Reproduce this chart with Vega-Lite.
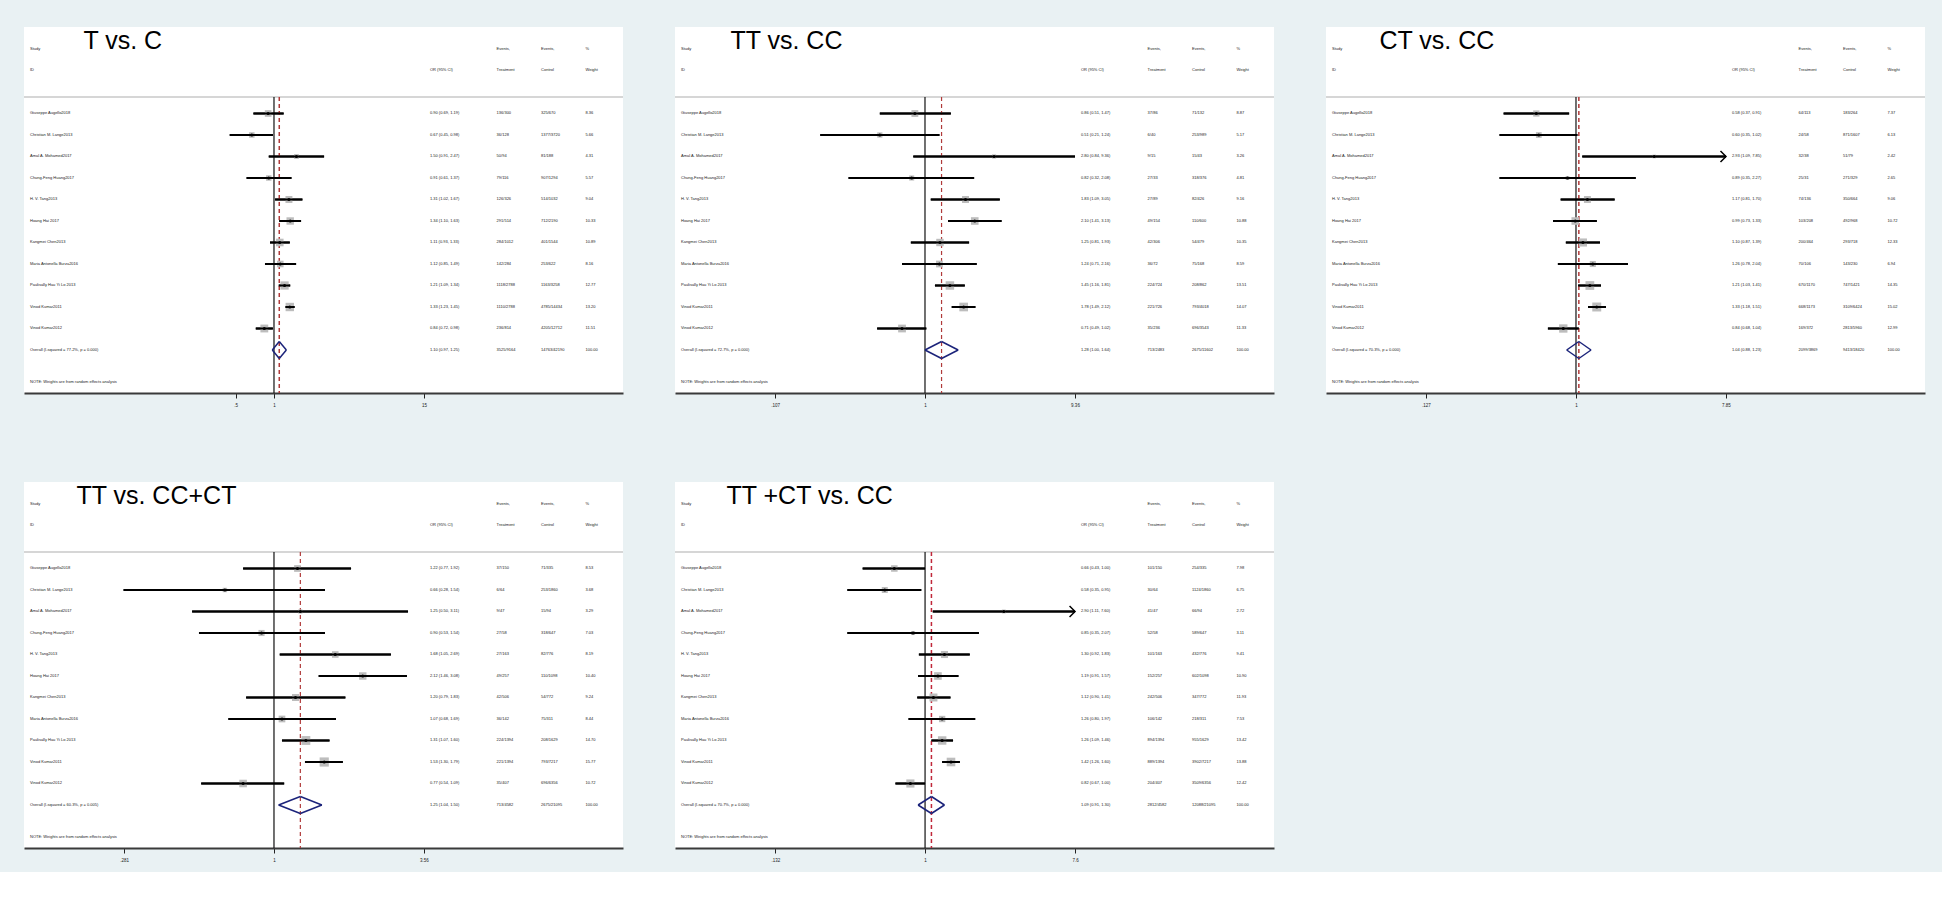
{
"$schema":"https://vega.github.io/schema/vega-lite/v6.json",
"background":"#e9f1f3",
"padding":{"left":23,"top":27,"right":16,"bottom":10},
"bounds":"flush",
"columns":3,
"spacing":{"row":89,"column":52},
"config":{"view":{"fill":"white","stroke":null},"font":"Liberation Sans"},
"datasets":{
"hdr":[
{"txt":"Study","col":"study","row":-2},{"txt":"ID","col":"study","row":-1},
{"txt":"OR (95% CI)","col":"ci","row":-1},
{"txt":"Events,","col":"trt","row":-2},{"txt":"Treatment","col":"trt","row":-1},
{"txt":"Events,","col":"ctl","row":-2},{"txt":"Control","col":"ctl","row":-1},
{"txt":"%","col":"wt","row":-2},{"txt":"Weight","col":"wt","row":-1},
{"txt":"NOTE: Weights are from random effects analysis","col":"study","row":13.5}],
"p1":[
{"study":"Giuseppe Augello2018","or":0.90,"lo":0.69,"hi":1.19,"ci":"0.90 (0.69, 1.19)","trt":"136/300","ctl":"325/670","wt":"8.36","row":1,"kind":"study"},
{"study":"Christian M. Lange2013","or":0.67,"lo":0.45,"hi":0.98,"ci":"0.67 (0.45, 0.98)","trt":"36/128","ctl":"1377/3720","wt":"5.66","row":2,"kind":"study"},
{"study":"Amal A. Mohamed2017","or":1.50,"lo":0.91,"hi":2.47,"ci":"1.50 (0.91, 2.47)","trt":"50/94","ctl":"81/188","wt":"4.31","row":3,"kind":"study"},
{"study":"Chung-Feng Huang2017","or":0.91,"lo":0.61,"hi":1.37,"ci":"0.91 (0.61, 1.37)","trt":"79/116","ctl":"907/1294","wt":"5.57","row":4,"kind":"study"},
{"study":"H. V. Tang2013","or":1.31,"lo":1.02,"hi":1.67,"ci":"1.31 (1.02, 1.67)","trt":"126/326","ctl":"514/1032","wt":"9.04","row":5,"kind":"study"},
{"study":"Hoang Hai 2017","or":1.34,"lo":1.10,"hi":1.63,"ci":"1.34 (1.10, 1.63)","trt":"291/514","ctl":"712/2190","wt":"10.33","row":6,"kind":"study"},
{"study":"Kangmei Chen2013","or":1.11,"lo":0.93,"hi":1.33,"ci":"1.11 (0.93, 1.33)","trt":"284/1012","ctl":"401/1544","wt":"10.89","row":7,"kind":"study"},
{"study":"Maria Antonella Burza2016","or":1.12,"lo":0.85,"hi":1.49,"ci":"1.12 (0.85, 1.49)","trt":"142/284","ctl":"253/622","wt":"8.16","row":8,"kind":"study"},
{"study":"Paulisally Hau Yi Lo 2013","or":1.21,"lo":1.09,"hi":1.34,"ci":"1.21 (1.09, 1.34)","trt":"1118/2788","ctl":"1163/3258","wt":"12.77","row":9,"kind":"study"},
{"study":"Vinod Kumar2011","or":1.33,"lo":1.23,"hi":1.45,"ci":"1.33 (1.23, 1.45)","trt":"1110/2788","ctl":"4785/14434","wt":"13.20","row":10,"kind":"study"},
{"study":"Vinod Kumar2012","or":0.84,"lo":0.72,"hi":0.98,"ci":"0.84 (0.72, 0.98)","trt":"236/814","ctl":"4205/12712","wt":"11.51","row":11,"kind":"study"},
{"study":"Overall  (I-squared = 77.2%, p = 0.000)","or":1.10,"lo":0.97,"hi":1.25,"ci":"1.10 (0.97, 1.25)","trt":"3525/9164","ctl":"14763/42190","wt":"100.00","row":12,"kind":"overall"}],
"p2":[
{"study":"Giuseppe Augello2018","or":0.86,"lo":0.51,"hi":1.47,"ci":"0.86 (0.51, 1.47)","trt":"37/86","ctl":"71/132","wt":"8.87","row":1,"kind":"study"},
{"study":"Christian M. Lange2013","or":0.51,"lo":0.21,"hi":1.24,"ci":"0.51 (0.21, 1.24)","trt":"6/40","ctl":"253/989","wt":"5.17","row":2,"kind":"study"},
{"study":"Amal A. Mohamed2017","or":2.80,"lo":0.84,"hi":9.36,"ci":"2.80 (0.84, 9.36)","trt":"9/15","ctl":"15/43","wt":"3.26","row":3,"kind":"study"},
{"study":"Chung-Feng Huang2017","or":0.82,"lo":0.32,"hi":2.08,"ci":"0.82 (0.32, 2.08)","trt":"27/33","ctl":"318/376","wt":"4.81","row":4,"kind":"study"},
{"study":"H. V. Tang2013","or":1.83,"lo":1.09,"hi":3.05,"ci":"1.83 (1.09, 3.05)","trt":"27/89","ctl":"82/426","wt":"9.16","row":5,"kind":"study"},
{"study":"Hoang Hai 2017","or":2.10,"lo":1.41,"hi":3.13,"ci":"2.10 (1.41, 3.13)","trt":"49/154","ctl":"110/600","wt":"10.88","row":6,"kind":"study"},
{"study":"Kangmei Chen2013","or":1.25,"lo":0.81,"hi":1.93,"ci":"1.25 (0.81, 1.93)","trt":"42/306","ctl":"54/479","wt":"10.35","row":7,"kind":"study"},
{"study":"Maria Antonella Burza2016","or":1.24,"lo":0.71,"hi":2.16,"ci":"1.24 (0.71, 2.16)","trt":"36/72","ctl":"75/168","wt":"8.59","row":8,"kind":"study"},
{"study":"Paulisally Hau Yi Lo 2013","or":1.45,"lo":1.16,"hi":1.81,"ci":"1.45 (1.16, 1.81)","trt":"224/724","ctl":"208/862","wt":"13.51","row":9,"kind":"study"},
{"study":"Vinod Kumar2011","or":1.78,"lo":1.49,"hi":2.12,"ci":"1.78 (1.49, 2.12)","trt":"221/726","ctl":"793/4018","wt":"14.07","row":10,"kind":"study"},
{"study":"Vinod Kumar2012","or":0.71,"lo":0.49,"hi":1.02,"ci":"0.71 (0.49, 1.02)","trt":"35/236","ctl":"696/3543","wt":"11.33","row":11,"kind":"study"},
{"study":"Overall  (I-squared = 72.7%, p = 0.000)","or":1.28,"lo":1.00,"hi":1.64,"ci":"1.28 (1.00, 1.64)","trt":"713/2483","ctl":"2675/11602","wt":"100.00","row":12,"kind":"overall"}],
"p3":[
{"study":"Giuseppe Augello2018","or":0.58,"lo":0.37,"hi":0.91,"ci":"0.58 (0.37, 0.91)","trt":"64/113","ctl":"183/264","wt":"7.37","row":1,"kind":"study"},
{"study":"Christian M. Lange2013","or":0.60,"lo":0.35,"hi":1.02,"ci":"0.60 (0.35, 1.02)","trt":"24/58","ctl":"871/1607","wt":"6.13","row":2,"kind":"study"},
{"study":"Amal A. Mohamed2017","or":2.93,"lo":1.09,"hi":7.85,"ci":"2.93 (1.09, 7.85)","trt":"32/38","ctl":"51/79","wt":"2.42","row":3,"kind":"study"},
{"study":"Chung-Feng Huang2017","or":0.89,"lo":0.35,"hi":2.27,"ci":"0.89 (0.35, 2.27)","trt":"25/31","ctl":"271/329","wt":"2.65","row":4,"kind":"study"},
{"study":"H. V. Tang2013","or":1.17,"lo":0.81,"hi":1.70,"ci":"1.17 (0.81, 1.70)","trt":"74/136","ctl":"350/664","wt":"9.06","row":5,"kind":"study"},
{"study":"Hoang Hai 2017","or":0.99,"lo":0.73,"hi":1.33,"ci":"0.99 (0.73, 1.33)","trt":"103/208","ctl":"492/968","wt":"10.72","row":6,"kind":"study"},
{"study":"Kangmei Chen2013","or":1.10,"lo":0.87,"hi":1.39,"ci":"1.10 (0.87, 1.39)","trt":"200/464","ctl":"293/718","wt":"12.33","row":7,"kind":"study"},
{"study":"Maria Antonella Burza2016","or":1.26,"lo":0.78,"hi":2.04,"ci":"1.26 (0.78, 2.04)","trt":"70/106","ctl":"143/230","wt":"6.94","row":8,"kind":"study"},
{"study":"Paulisally Hau Yi Lo 2013","or":1.21,"lo":1.03,"hi":1.41,"ci":"1.21 (1.03, 1.41)","trt":"670/1170","ctl":"747/1421","wt":"14.35","row":9,"kind":"study"},
{"study":"Vinod Kumar2011","or":1.33,"lo":1.18,"hi":1.51,"ci":"1.33 (1.18, 1.51)","trt":"668/1173","ctl":"3109/6424","wt":"15.02","row":10,"kind":"study"},
{"study":"Vinod Kumar2012","or":0.84,"lo":0.68,"hi":1.04,"ci":"0.84 (0.68, 1.04)","trt":"169/372","ctl":"2813/5960","wt":"12.99","row":11,"kind":"study"},
{"study":"Overall  (I-squared = 70.3%, p = 0.000)","or":1.04,"lo":0.88,"hi":1.23,"ci":"1.04 (0.88, 1.23)","trt":"2099/3869","ctl":"9413/18420","wt":"100.00","row":12,"kind":"overall"}],
"p4":[
{"study":"Giuseppe Augello2018","or":1.22,"lo":0.77,"hi":1.92,"ci":"1.22 (0.77, 1.92)","trt":"37/150","ctl":"71/335","wt":"8.53","row":1,"kind":"study"},
{"study":"Christian M. Lange2013","or":0.66,"lo":0.28,"hi":1.54,"ci":"0.66 (0.28, 1.54)","trt":"6/64","ctl":"253/1860","wt":"3.68","row":2,"kind":"study"},
{"study":"Amal A. Mohamed2017","or":1.25,"lo":0.50,"hi":3.11,"ci":"1.25 (0.50, 3.11)","trt":"9/47","ctl":"15/94","wt":"3.29","row":3,"kind":"study"},
{"study":"Chung-Feng Huang2017","or":0.90,"lo":0.53,"hi":1.54,"ci":"0.90 (0.53, 1.54)","trt":"27/58","ctl":"318/647","wt":"7.03","row":4,"kind":"study"},
{"study":"H. V. Tang2013","or":1.68,"lo":1.05,"hi":2.69,"ci":"1.68 (1.05, 2.69)","trt":"27/163","ctl":"82/776","wt":"8.19","row":5,"kind":"study"},
{"study":"Hoang Hai 2017","or":2.12,"lo":1.46,"hi":3.08,"ci":"2.12 (1.46, 3.08)","trt":"49/257","ctl":"110/1098","wt":"10.40","row":6,"kind":"study"},
{"study":"Kangmei Chen2013","or":1.20,"lo":0.79,"hi":1.83,"ci":"1.20 (0.79, 1.83)","trt":"42/506","ctl":"54/772","wt":"9.24","row":7,"kind":"study"},
{"study":"Maria Antonella Burza2016","or":1.07,"lo":0.68,"hi":1.69,"ci":"1.07 (0.68, 1.69)","trt":"36/142","ctl":"75/311","wt":"8.44","row":8,"kind":"study"},
{"study":"Paulisally Hau Yi Lo 2013","or":1.31,"lo":1.07,"hi":1.60,"ci":"1.31 (1.07, 1.60)","trt":"224/1394","ctl":"208/1629","wt":"14.70","row":9,"kind":"study"},
{"study":"Vinod Kumar2011","or":1.53,"lo":1.30,"hi":1.79,"ci":"1.53 (1.30, 1.79)","trt":"221/1394","ctl":"793/7217","wt":"15.77","row":10,"kind":"study"},
{"study":"Vinod Kumar2012","or":0.77,"lo":0.54,"hi":1.09,"ci":"0.77 (0.54, 1.09)","trt":"35/407","ctl":"696/6356","wt":"10.72","row":11,"kind":"study"},
{"study":"Overall  (I-squared = 60.3%, p = 0.005)","or":1.25,"lo":1.04,"hi":1.50,"ci":"1.25 (1.04, 1.50)","trt":"713/4582","ctl":"2675/21095","wt":"100.00","row":12,"kind":"overall"}],
"p5":[
{"study":"Giuseppe Augello2018","or":0.66,"lo":0.43,"hi":1.00,"ci":"0.66 (0.43, 1.00)","trt":"101/150","ctl":"254/335","wt":"7.98","row":1,"kind":"study"},
{"study":"Christian M. Lange2013","or":0.58,"lo":0.35,"hi":0.95,"ci":"0.58 (0.35, 0.95)","trt":"30/64","ctl":"1124/1860","wt":"6.75","row":2,"kind":"study"},
{"study":"Amal A. Mohamed2017","or":2.90,"lo":1.11,"hi":7.60,"ci":"2.90 (1.11, 7.60)","trt":"41/47","ctl":"66/94","wt":"2.72","row":3,"kind":"study"},
{"study":"Chung-Feng Huang2017","or":0.85,"lo":0.35,"hi":2.07,"ci":"0.85 (0.35, 2.07)","trt":"52/58","ctl":"589/647","wt":"3.11","row":4,"kind":"study"},
{"study":"H. V. Tang2013","or":1.30,"lo":0.92,"hi":1.83,"ci":"1.30 (0.92, 1.83)","trt":"101/163","ctl":"432/776","wt":"9.41","row":5,"kind":"study"},
{"study":"Hoang Hai 2017","or":1.19,"lo":0.91,"hi":1.57,"ci":"1.19 (0.91, 1.57)","trt":"152/257","ctl":"602/1098","wt":"10.90","row":6,"kind":"study"},
{"study":"Kangmei Chen2013","or":1.12,"lo":0.90,"hi":1.41,"ci":"1.12 (0.90, 1.41)","trt":"242/506","ctl":"347/772","wt":"11.93","row":7,"kind":"study"},
{"study":"Maria Antonella Burza2016","or":1.26,"lo":0.80,"hi":1.97,"ci":"1.26 (0.80, 1.97)","trt":"106/142","ctl":"218/311","wt":"7.53","row":8,"kind":"study"},
{"study":"Paulisally Hau Yi Lo 2013","or":1.26,"lo":1.09,"hi":1.46,"ci":"1.26 (1.09, 1.46)","trt":"894/1394","ctl":"955/1629","wt":"13.42","row":9,"kind":"study"},
{"study":"Vinod Kumar2011","or":1.42,"lo":1.26,"hi":1.60,"ci":"1.42 (1.26, 1.60)","trt":"889/1394","ctl":"3902/7217","wt":"13.88","row":10,"kind":"study"},
{"study":"Vinod Kumar2012","or":0.82,"lo":0.67,"hi":1.00,"ci":"0.82 (0.67, 1.00)","trt":"204/407","ctl":"3509/6356","wt":"12.42","row":11,"kind":"study"},
{"study":"Overall  (I-squared = 70.7%, p = 0.000)","or":1.09,"lo":0.91,"hi":1.30,"ci":"1.09 (0.91, 1.30)","trt":"2812/4582","ctl":"12088/21095","wt":"100.00","row":12,"kind":"overall"}]
},
"concat":[
{"width":599,"height":366,"resolve":{"scale":{"x":"independent"}},"layer":[
{"data":{"name":"p1"},"layer":[
{"data":{"values":[{}]},"mark":{"type":"rule","color":"#c8c8c8","strokeWidth":1.5},"encoding":{"y":{"datum":0.233,"type":"quantitative","scale":{"domain":[-3.023,14],"reverse":true,"nice":false,"zero":false},"axis":null}}},
{"transform":[{"filter":"datum.kind=='study'"}],"mark":{"type":"rule","color":"#000000","strokeWidth":2},"encoding":{"x":{"field":"lo","type":"quantitative","scale":{"type":"log","domain":[0.01097,544.6],"nice":false},"axis":{"values":[0.5,1,15],"labelExpr":"replace(format(datum.value,'.3~g'),'0.','.')","title":null,"grid":false,"domain":true,"ticks":true,"labels":true,"domainColor":"#3a3a3a","domainWidth":2,"tickColor":"#222222","tickSize":5,"labelFontSize":4.5,"labelColor":"#222222","labelPadding":4,"labelAngle":0,"labelFlush":false,"labelOverlap":false}},"x2":{"field":"hi"},"y":{"field":"row","type":"quantitative","scale":{"domain":[-3.023,14],"reverse":true,"nice":false,"zero":false},"axis":null}}},
{"data":{"values":[{}]},"mark":{"type":"rule","color":"#111111","strokeWidth":1.2},"encoding":{"x":{"datum":1,"type":"quantitative","scale":{"type":"log","domain":[0.01097,544.6],"nice":false}},"y":{"datum":0.233,"type":"quantitative","scale":{"domain":[-3.023,14],"reverse":true,"nice":false,"zero":false},"axis":null},"y2":{"datum":14}}},
{"transform":[{"filter":"datum.kind=='overall'"}],"mark":{"type":"rule","color":"#b03a3a","strokeWidth":1.5,"strokeDash":[4,3]},"encoding":{"x":{"field":"or","type":"quantitative","scale":{"type":"log","domain":[0.01097,544.6],"nice":false}},"y":{"datum":0.233,"type":"quantitative","scale":{"domain":[-3.023,14],"reverse":true,"nice":false,"zero":false},"axis":null},"y2":{"datum":14}}},
{"transform":[{"filter":"datum.kind=='study'"}],"mark":{"type":"point","shape":"square","filled":true,"color":"#bdbdbd","opacity":1},"encoding":{"x":{"field":"or","type":"quantitative","scale":{"type":"log","domain":[0.01097,544.6],"nice":false}},"y":{"field":"row","type":"quantitative","scale":{"domain":[-3.023,14],"reverse":true,"nice":false,"zero":false},"axis":null},"size":{"field":"wt","type":"quantitative","scale":{"domain":[0,15],"range":[0,80]},"legend":null}}},
{"transform":[{"filter":"datum.kind=='study'"}],"mark":{"type":"rule","color":"#000000","strokeWidth":2},"encoding":{"x":{"field":"lo","type":"quantitative","scale":{"type":"log","domain":[0.01097,544.6],"nice":false}},"x2":{"field":"hi"},"y":{"field":"row","type":"quantitative","scale":{"domain":[-3.023,14],"reverse":true,"nice":false,"zero":false},"axis":null}}},
{"transform":[{"filter":"datum.kind=='study'"}],"mark":{"type":"point","shape":"circle","filled":true,"color":"#000000","opacity":1,"size":10},"encoding":{"x":{"field":"or","type":"quantitative","scale":{"type":"log","domain":[0.01097,544.6],"nice":false}},"y":{"field":"row","type":"quantitative","scale":{"domain":[-3.023,14],"reverse":true,"nice":false,"zero":false},"axis":null}}},
{"transform":[{"filter":"datum.kind=='overall'"}],"mark":{"type":"rule","color":"#1b237a","strokeWidth":1.5,"y2Offset":-8.5},"encoding":{"x":{"field":"lo","type":"quantitative","scale":{"type":"log","domain":[0.01097,544.6],"nice":false}},"x2":{"field":"or"},"y":{"field":"row","type":"quantitative","scale":{"domain":[-3.023,14],"reverse":true,"nice":false,"zero":false},"axis":null},"y2":{"field":"row"}}},
{"transform":[{"filter":"datum.kind=='overall'"}],"mark":{"type":"rule","color":"#1b237a","strokeWidth":1.5,"yOffset":-8.5},"encoding":{"x":{"field":"or","type":"quantitative","scale":{"type":"log","domain":[0.01097,544.6],"nice":false}},"x2":{"field":"hi"},"y":{"field":"row","type":"quantitative","scale":{"domain":[-3.023,14],"reverse":true,"nice":false,"zero":false},"axis":null},"y2":{"field":"row"}}},
{"transform":[{"filter":"datum.kind=='overall'"}],"mark":{"type":"rule","color":"#1b237a","strokeWidth":1.5,"y2Offset":8.5},"encoding":{"x":{"field":"lo","type":"quantitative","scale":{"type":"log","domain":[0.01097,544.6],"nice":false}},"x2":{"field":"or"},"y":{"field":"row","type":"quantitative","scale":{"domain":[-3.023,14],"reverse":true,"nice":false,"zero":false},"axis":null},"y2":{"field":"row"}}},
{"transform":[{"filter":"datum.kind=='overall'"}],"mark":{"type":"rule","color":"#1b237a","strokeWidth":1.5,"yOffset":8.5},"encoding":{"x":{"field":"or","type":"quantitative","scale":{"type":"log","domain":[0.01097,544.6],"nice":false}},"x2":{"field":"hi"},"y":{"field":"row","type":"quantitative","scale":{"domain":[-3.023,14],"reverse":true,"nice":false,"zero":false},"axis":null},"y2":{"field":"row"}}}
]},
{"layer":[
{"data":{"name":"p1"},"transform":[{"fold":["study","ci","trt","ctl","wt"],"as":["col","txt"]}],"mark":{"type":"text","align":"left","baseline":"middle","fontSize":4,"font":"Liberation Sans","color":"#222222"},"encoding":{"x":{"field":"col","type":"nominal","scale":{"type":"point","domain":["study","_1","title","_3","_4","_5","_6","_7","_8","_9","_10","_11","_12","_13","_14","_15","_16","_17","ci","_19","_20","trt","_22","ctl","_24","wt"],"range":[6,561.5],"padding":0},"axis":null},"y":{"field":"row","type":"quantitative","scale":{"domain":[-3.023,14],"reverse":true,"nice":false,"zero":false},"axis":null},"text":{"field":"txt"}}},
{"data":{"name":"hdr"},"mark":{"type":"text","align":"left","baseline":"middle","fontSize":4,"font":"Liberation Sans","color":"#222222"},"encoding":{"x":{"field":"col","type":"nominal","scale":{"type":"point","domain":["study","_1","title","_3","_4","_5","_6","_7","_8","_9","_10","_11","_12","_13","_14","_15","_16","_17","ci","_19","_20","trt","_22","ctl","_24","wt"],"range":[6,561.5],"padding":0},"axis":null},"y":{"field":"row","type":"quantitative","scale":{"domain":[-3.023,14],"reverse":true,"nice":false,"zero":false},"axis":null},"text":{"field":"txt"}}},
{"data":{"values":[{"txt":"T vs. C"}]},"mark":{"type":"text","align":"left","baseline":"alphabetic","fontSize":25,"font":"Liberation Sans","color":"#000000","dx":9},"encoding":{"x":{"datum":"title","type":"nominal","scale":{"type":"point","domain":["study","_1","title","_3","_4","_5","_6","_7","_8","_9","_10","_11","_12","_13","_14","_15","_16","_17","ci","_19","_20","trt","_22","ctl","_24","wt"],"range":[6,561.5],"padding":0},"axis":null},"y":{"datum":-2,"type":"quantitative","scale":{"domain":[-3.023,14],"reverse":true,"nice":false,"zero":false},"axis":null},"text":{"field":"txt"}}}
]}
]},
{"width":599,"height":366,"resolve":{"scale":{"x":"independent"}},"layer":[
{"data":{"name":"p2"},"layer":[
{"data":{"values":[{}]},"mark":{"type":"rule","color":"#c8c8c8","strokeWidth":1.5},"encoding":{"y":{"datum":0.233,"type":"quantitative","scale":{"domain":[-3.023,14],"reverse":true,"nice":false,"zero":false},"axis":null}}},
{"transform":[{"filter":"datum.kind=='study'"}],"mark":{"type":"rule","color":"#000000","strokeWidth":2},"encoding":{"x":{"field":"lo","type":"quantitative","scale":{"type":"log","domain":[0.02406,181.9],"nice":false},"axis":{"values":[0.107,1,9.36],"labelExpr":"replace(format(datum.value,'.3~g'),'0.','.')","title":null,"grid":false,"domain":true,"ticks":true,"labels":true,"domainColor":"#3a3a3a","domainWidth":2,"tickColor":"#222222","tickSize":5,"labelFontSize":4.5,"labelColor":"#222222","labelPadding":4,"labelAngle":0,"labelFlush":false,"labelOverlap":false}},"x2":{"field":"hi"},"y":{"field":"row","type":"quantitative","scale":{"domain":[-3.023,14],"reverse":true,"nice":false,"zero":false},"axis":null}}},
{"data":{"values":[{}]},"mark":{"type":"rule","color":"#111111","strokeWidth":1.2},"encoding":{"x":{"datum":1,"type":"quantitative","scale":{"type":"log","domain":[0.02406,181.9],"nice":false}},"y":{"datum":0.233,"type":"quantitative","scale":{"domain":[-3.023,14],"reverse":true,"nice":false,"zero":false},"axis":null},"y2":{"datum":14}}},
{"transform":[{"filter":"datum.kind=='overall'"}],"mark":{"type":"rule","color":"#b03a3a","strokeWidth":1.2,"strokeDash":[4,3]},"encoding":{"x":{"field":"or","type":"quantitative","scale":{"type":"log","domain":[0.02406,181.9],"nice":false}},"y":{"datum":0.233,"type":"quantitative","scale":{"domain":[-3.023,14],"reverse":true,"nice":false,"zero":false},"axis":null},"y2":{"datum":14}}},
{"transform":[{"filter":"datum.kind=='study'"}],"mark":{"type":"point","shape":"square","filled":true,"color":"#bdbdbd","opacity":1},"encoding":{"x":{"field":"or","type":"quantitative","scale":{"type":"log","domain":[0.02406,181.9],"nice":false}},"y":{"field":"row","type":"quantitative","scale":{"domain":[-3.023,14],"reverse":true,"nice":false,"zero":false},"axis":null},"size":{"field":"wt","type":"quantitative","scale":{"domain":[0,15],"range":[0,112]},"legend":null}}},
{"transform":[{"filter":"datum.kind=='study'"}],"mark":{"type":"rule","color":"#000000","strokeWidth":2},"encoding":{"x":{"field":"lo","type":"quantitative","scale":{"type":"log","domain":[0.02406,181.9],"nice":false}},"x2":{"field":"hi"},"y":{"field":"row","type":"quantitative","scale":{"domain":[-3.023,14],"reverse":true,"nice":false,"zero":false},"axis":null}}},
{"transform":[{"filter":"datum.kind=='study'"}],"mark":{"type":"point","shape":"circle","filled":true,"color":"#000000","opacity":1,"size":10},"encoding":{"x":{"field":"or","type":"quantitative","scale":{"type":"log","domain":[0.02406,181.9],"nice":false}},"y":{"field":"row","type":"quantitative","scale":{"domain":[-3.023,14],"reverse":true,"nice":false,"zero":false},"axis":null}}},
{"transform":[{"filter":"datum.kind=='overall'"}],"mark":{"type":"rule","color":"#1b237a","strokeWidth":1.5,"y2Offset":-8.5},"encoding":{"x":{"field":"lo","type":"quantitative","scale":{"type":"log","domain":[0.02406,181.9],"nice":false}},"x2":{"field":"or"},"y":{"field":"row","type":"quantitative","scale":{"domain":[-3.023,14],"reverse":true,"nice":false,"zero":false},"axis":null},"y2":{"field":"row"}}},
{"transform":[{"filter":"datum.kind=='overall'"}],"mark":{"type":"rule","color":"#1b237a","strokeWidth":1.5,"yOffset":-8.5},"encoding":{"x":{"field":"or","type":"quantitative","scale":{"type":"log","domain":[0.02406,181.9],"nice":false}},"x2":{"field":"hi"},"y":{"field":"row","type":"quantitative","scale":{"domain":[-3.023,14],"reverse":true,"nice":false,"zero":false},"axis":null},"y2":{"field":"row"}}},
{"transform":[{"filter":"datum.kind=='overall'"}],"mark":{"type":"rule","color":"#1b237a","strokeWidth":1.5,"y2Offset":8.5},"encoding":{"x":{"field":"lo","type":"quantitative","scale":{"type":"log","domain":[0.02406,181.9],"nice":false}},"x2":{"field":"or"},"y":{"field":"row","type":"quantitative","scale":{"domain":[-3.023,14],"reverse":true,"nice":false,"zero":false},"axis":null},"y2":{"field":"row"}}},
{"transform":[{"filter":"datum.kind=='overall'"}],"mark":{"type":"rule","color":"#1b237a","strokeWidth":1.5,"yOffset":8.5},"encoding":{"x":{"field":"or","type":"quantitative","scale":{"type":"log","domain":[0.02406,181.9],"nice":false}},"x2":{"field":"hi"},"y":{"field":"row","type":"quantitative","scale":{"domain":[-3.023,14],"reverse":true,"nice":false,"zero":false},"axis":null},"y2":{"field":"row"}}}
]},
{"layer":[
{"data":{"name":"p2"},"transform":[{"fold":["study","ci","trt","ctl","wt"],"as":["col","txt"]}],"mark":{"type":"text","align":"left","baseline":"middle","fontSize":4,"font":"Liberation Sans","color":"#222222"},"encoding":{"x":{"field":"col","type":"nominal","scale":{"type":"point","domain":["study","_1","title","_3","_4","_5","_6","_7","_8","_9","_10","_11","_12","_13","_14","_15","_16","_17","ci","_19","_20","trt","_22","ctl","_24","wt"],"range":[6,561.5],"padding":0},"axis":null},"y":{"field":"row","type":"quantitative","scale":{"domain":[-3.023,14],"reverse":true,"nice":false,"zero":false},"axis":null},"text":{"field":"txt"}}},
{"data":{"name":"hdr"},"mark":{"type":"text","align":"left","baseline":"middle","fontSize":4,"font":"Liberation Sans","color":"#222222"},"encoding":{"x":{"field":"col","type":"nominal","scale":{"type":"point","domain":["study","_1","title","_3","_4","_5","_6","_7","_8","_9","_10","_11","_12","_13","_14","_15","_16","_17","ci","_19","_20","trt","_22","ctl","_24","wt"],"range":[6,561.5],"padding":0},"axis":null},"y":{"field":"row","type":"quantitative","scale":{"domain":[-3.023,14],"reverse":true,"nice":false,"zero":false},"axis":null},"text":{"field":"txt"}}},
{"data":{"values":[{"txt":"TT vs. CC"}]},"mark":{"type":"text","align":"left","baseline":"alphabetic","fontSize":25,"font":"Liberation Sans","color":"#000000","dx":5},"encoding":{"x":{"datum":"title","type":"nominal","scale":{"type":"point","domain":["study","_1","title","_3","_4","_5","_6","_7","_8","_9","_10","_11","_12","_13","_14","_15","_16","_17","ci","_19","_20","trt","_22","ctl","_24","wt"],"range":[6,561.5],"padding":0},"axis":null},"y":{"datum":-2,"type":"quantitative","scale":{"domain":[-3.023,14],"reverse":true,"nice":false,"zero":false},"axis":null},"text":{"field":"txt"}}}
]}
]},
{"width":599,"height":366,"resolve":{"scale":{"x":"independent"}},"layer":[
{"data":{"name":"p3"},"layer":[
{"data":{"values":[{}]},"mark":{"type":"rule","color":"#c8c8c8","strokeWidth":1.5},"encoding":{"y":{"datum":0.233,"type":"quantitative","scale":{"domain":[-3.023,14],"reverse":true,"nice":false,"zero":false},"axis":null}}},
{"transform":[{"filter":"datum.kind=='study'"}],"mark":{"type":"rule","color":"#000000","strokeWidth":2},"encoding":{"x":{"field":"lo","type":"quantitative","scale":{"type":"log","domain":[0.03226,120.8],"nice":false},"axis":{"values":[0.127,1,7.85],"labelExpr":"replace(format(datum.value,'.3~g'),'0.','.')","title":null,"grid":false,"domain":true,"ticks":true,"labels":true,"domainColor":"#3a3a3a","domainWidth":2,"tickColor":"#222222","tickSize":5,"labelFontSize":4.5,"labelColor":"#222222","labelPadding":4,"labelAngle":0,"labelFlush":false,"labelOverlap":false}},"x2":{"field":"hi"},"y":{"field":"row","type":"quantitative","scale":{"domain":[-3.023,14],"reverse":true,"nice":false,"zero":false},"axis":null}}},
{"data":{"values":[{}]},"mark":{"type":"rule","color":"#111111","strokeWidth":1.2},"encoding":{"x":{"datum":1,"type":"quantitative","scale":{"type":"log","domain":[0.03226,120.8],"nice":false}},"y":{"datum":0.233,"type":"quantitative","scale":{"domain":[-3.023,14],"reverse":true,"nice":false,"zero":false},"axis":null},"y2":{"datum":14}}},
{"transform":[{"filter":"datum.kind=='overall'"}],"mark":{"type":"rule","color":"#b03a3a","strokeWidth":1.5,"strokeDash":[4,3]},"encoding":{"x":{"field":"or","type":"quantitative","scale":{"type":"log","domain":[0.03226,120.8],"nice":false}},"y":{"datum":0.233,"type":"quantitative","scale":{"domain":[-3.023,14],"reverse":true,"nice":false,"zero":false},"axis":null},"y2":{"datum":14}}},
{"transform":[{"filter":"datum.kind=='study'"}],"mark":{"type":"point","shape":"square","filled":true,"color":"#bdbdbd","opacity":1},"encoding":{"x":{"field":"or","type":"quantitative","scale":{"type":"log","domain":[0.03226,120.8],"nice":false}},"y":{"field":"row","type":"quantitative","scale":{"domain":[-3.023,14],"reverse":true,"nice":false,"zero":false},"axis":null},"size":{"field":"wt","type":"quantitative","scale":{"domain":[0,15],"range":[0,140]},"legend":null}}},
{"transform":[{"filter":"datum.kind=='study'"}],"mark":{"type":"rule","color":"#000000","strokeWidth":2},"encoding":{"x":{"field":"lo","type":"quantitative","scale":{"type":"log","domain":[0.03226,120.8],"nice":false}},"x2":{"field":"hi"},"y":{"field":"row","type":"quantitative","scale":{"domain":[-3.023,14],"reverse":true,"nice":false,"zero":false},"axis":null}}},
{"transform":[{"filter":"datum.kind=='study'"}],"mark":{"type":"point","shape":"circle","filled":true,"color":"#000000","opacity":1,"size":10},"encoding":{"x":{"field":"or","type":"quantitative","scale":{"type":"log","domain":[0.03226,120.8],"nice":false}},"y":{"field":"row","type":"quantitative","scale":{"domain":[-3.023,14],"reverse":true,"nice":false,"zero":false},"axis":null}}},
{"transform":[{"filter":"datum.kind=='study' && datum.hi > 7.5"}],"mark":{"type":"point","shape":"M-1,-1L0,0L-1,1","filled":false,"color":"#000000","opacity":1,"strokeWidth":1.5,"size":121},"encoding":{"x":{"field":"hi","type":"quantitative","scale":{"type":"log","domain":[0.03226,120.8],"nice":false}},"y":{"field":"row","type":"quantitative","scale":{"domain":[-3.023,14],"reverse":true,"nice":false,"zero":false},"axis":null}}},
{"transform":[{"filter":"datum.kind=='overall'"}],"mark":{"type":"rule","color":"#1b237a","strokeWidth":1.5,"y2Offset":-8.5},"encoding":{"x":{"field":"lo","type":"quantitative","scale":{"type":"log","domain":[0.03226,120.8],"nice":false}},"x2":{"field":"or"},"y":{"field":"row","type":"quantitative","scale":{"domain":[-3.023,14],"reverse":true,"nice":false,"zero":false},"axis":null},"y2":{"field":"row"}}},
{"transform":[{"filter":"datum.kind=='overall'"}],"mark":{"type":"rule","color":"#1b237a","strokeWidth":1.5,"yOffset":-8.5},"encoding":{"x":{"field":"or","type":"quantitative","scale":{"type":"log","domain":[0.03226,120.8],"nice":false}},"x2":{"field":"hi"},"y":{"field":"row","type":"quantitative","scale":{"domain":[-3.023,14],"reverse":true,"nice":false,"zero":false},"axis":null},"y2":{"field":"row"}}},
{"transform":[{"filter":"datum.kind=='overall'"}],"mark":{"type":"rule","color":"#1b237a","strokeWidth":1.5,"y2Offset":8.5},"encoding":{"x":{"field":"lo","type":"quantitative","scale":{"type":"log","domain":[0.03226,120.8],"nice":false}},"x2":{"field":"or"},"y":{"field":"row","type":"quantitative","scale":{"domain":[-3.023,14],"reverse":true,"nice":false,"zero":false},"axis":null},"y2":{"field":"row"}}},
{"transform":[{"filter":"datum.kind=='overall'"}],"mark":{"type":"rule","color":"#1b237a","strokeWidth":1.5,"yOffset":8.5},"encoding":{"x":{"field":"or","type":"quantitative","scale":{"type":"log","domain":[0.03226,120.8],"nice":false}},"x2":{"field":"hi"},"y":{"field":"row","type":"quantitative","scale":{"domain":[-3.023,14],"reverse":true,"nice":false,"zero":false},"axis":null},"y2":{"field":"row"}}}
]},
{"layer":[
{"data":{"name":"p3"},"transform":[{"fold":["study","ci","trt","ctl","wt"],"as":["col","txt"]}],"mark":{"type":"text","align":"left","baseline":"middle","fontSize":4,"font":"Liberation Sans","color":"#222222"},"encoding":{"x":{"field":"col","type":"nominal","scale":{"type":"point","domain":["study","_1","title","_3","_4","_5","_6","_7","_8","_9","_10","_11","_12","_13","_14","_15","_16","_17","ci","_19","_20","trt","_22","ctl","_24","wt"],"range":[6,561.5],"padding":0},"axis":null},"y":{"field":"row","type":"quantitative","scale":{"domain":[-3.023,14],"reverse":true,"nice":false,"zero":false},"axis":null},"text":{"field":"txt"}}},
{"data":{"name":"hdr"},"mark":{"type":"text","align":"left","baseline":"middle","fontSize":4,"font":"Liberation Sans","color":"#222222"},"encoding":{"x":{"field":"col","type":"nominal","scale":{"type":"point","domain":["study","_1","title","_3","_4","_5","_6","_7","_8","_9","_10","_11","_12","_13","_14","_15","_16","_17","ci","_19","_20","trt","_22","ctl","_24","wt"],"range":[6,561.5],"padding":0},"axis":null},"y":{"field":"row","type":"quantitative","scale":{"domain":[-3.023,14],"reverse":true,"nice":false,"zero":false},"axis":null},"text":{"field":"txt"}}},
{"data":{"values":[{"txt":"CT vs. CC"}]},"mark":{"type":"text","align":"left","baseline":"alphabetic","fontSize":25,"font":"Liberation Sans","color":"#000000","dx":3},"encoding":{"x":{"datum":"title","type":"nominal","scale":{"type":"point","domain":["study","_1","title","_3","_4","_5","_6","_7","_8","_9","_10","_11","_12","_13","_14","_15","_16","_17","ci","_19","_20","trt","_22","ctl","_24","wt"],"range":[6,561.5],"padding":0},"axis":null},"y":{"datum":-2,"type":"quantitative","scale":{"domain":[-3.023,14],"reverse":true,"nice":false,"zero":false},"axis":null},"text":{"field":"txt"}}}
]}
]},
{"width":599,"height":366,"resolve":{"scale":{"x":"independent"}},"layer":[
{"data":{"name":"p4"},"layer":[
{"data":{"values":[{}]},"mark":{"type":"rule","color":"#c8c8c8","strokeWidth":1.5},"encoding":{"y":{"datum":0.233,"type":"quantitative","scale":{"domain":[-3.023,14],"reverse":true,"nice":false,"zero":false},"axis":null}}},
{"transform":[{"filter":"datum.kind=='study'"}],"mark":{"type":"rule","color":"#000000","strokeWidth":2},"encoding":{"x":{"field":"lo","type":"quantitative","scale":{"type":"log","domain":[0.1205,19.19],"nice":false},"axis":{"values":[0.281,1,3.56],"labelExpr":"replace(format(datum.value,'.3~g'),'0.','.')","title":null,"grid":false,"domain":true,"ticks":true,"labels":true,"domainColor":"#3a3a3a","domainWidth":2,"tickColor":"#222222","tickSize":5,"labelFontSize":4.5,"labelColor":"#222222","labelPadding":4,"labelAngle":0,"labelFlush":false,"labelOverlap":false}},"x2":{"field":"hi"},"y":{"field":"row","type":"quantitative","scale":{"domain":[-3.023,14],"reverse":true,"nice":false,"zero":false},"axis":null}}},
{"data":{"values":[{}]},"mark":{"type":"rule","color":"#111111","strokeWidth":1.2},"encoding":{"x":{"datum":1,"type":"quantitative","scale":{"type":"log","domain":[0.1205,19.19],"nice":false}},"y":{"datum":0.233,"type":"quantitative","scale":{"domain":[-3.023,14],"reverse":true,"nice":false,"zero":false},"axis":null},"y2":{"datum":14}}},
{"transform":[{"filter":"datum.kind=='overall'"}],"mark":{"type":"rule","color":"#b03a3a","strokeWidth":1.2,"strokeDash":[4,3]},"encoding":{"x":{"field":"or","type":"quantitative","scale":{"type":"log","domain":[0.1205,19.19],"nice":false}},"y":{"datum":0.233,"type":"quantitative","scale":{"domain":[-3.023,14],"reverse":true,"nice":false,"zero":false},"axis":null},"y2":{"datum":14}}},
{"transform":[{"filter":"datum.kind=='study'"}],"mark":{"type":"point","shape":"square","filled":true,"color":"#bdbdbd","opacity":1},"encoding":{"x":{"field":"or","type":"quantitative","scale":{"type":"log","domain":[0.1205,19.19],"nice":false}},"y":{"field":"row","type":"quantitative","scale":{"domain":[-3.023,14],"reverse":true,"nice":false,"zero":false},"axis":null},"size":{"field":"wt","type":"quantitative","scale":{"domain":[0,15],"range":[0,105]},"legend":null}}},
{"transform":[{"filter":"datum.kind=='study'"}],"mark":{"type":"rule","color":"#000000","strokeWidth":2},"encoding":{"x":{"field":"lo","type":"quantitative","scale":{"type":"log","domain":[0.1205,19.19],"nice":false}},"x2":{"field":"hi"},"y":{"field":"row","type":"quantitative","scale":{"domain":[-3.023,14],"reverse":true,"nice":false,"zero":false},"axis":null}}},
{"transform":[{"filter":"datum.kind=='study'"}],"mark":{"type":"point","shape":"circle","filled":true,"color":"#000000","opacity":1,"size":10},"encoding":{"x":{"field":"or","type":"quantitative","scale":{"type":"log","domain":[0.1205,19.19],"nice":false}},"y":{"field":"row","type":"quantitative","scale":{"domain":[-3.023,14],"reverse":true,"nice":false,"zero":false},"axis":null}}},
{"transform":[{"filter":"datum.kind=='overall'"}],"mark":{"type":"rule","color":"#1b237a","strokeWidth":1.5,"y2Offset":-8.5},"encoding":{"x":{"field":"lo","type":"quantitative","scale":{"type":"log","domain":[0.1205,19.19],"nice":false}},"x2":{"field":"or"},"y":{"field":"row","type":"quantitative","scale":{"domain":[-3.023,14],"reverse":true,"nice":false,"zero":false},"axis":null},"y2":{"field":"row"}}},
{"transform":[{"filter":"datum.kind=='overall'"}],"mark":{"type":"rule","color":"#1b237a","strokeWidth":1.5,"yOffset":-8.5},"encoding":{"x":{"field":"or","type":"quantitative","scale":{"type":"log","domain":[0.1205,19.19],"nice":false}},"x2":{"field":"hi"},"y":{"field":"row","type":"quantitative","scale":{"domain":[-3.023,14],"reverse":true,"nice":false,"zero":false},"axis":null},"y2":{"field":"row"}}},
{"transform":[{"filter":"datum.kind=='overall'"}],"mark":{"type":"rule","color":"#1b237a","strokeWidth":1.5,"y2Offset":8.5},"encoding":{"x":{"field":"lo","type":"quantitative","scale":{"type":"log","domain":[0.1205,19.19],"nice":false}},"x2":{"field":"or"},"y":{"field":"row","type":"quantitative","scale":{"domain":[-3.023,14],"reverse":true,"nice":false,"zero":false},"axis":null},"y2":{"field":"row"}}},
{"transform":[{"filter":"datum.kind=='overall'"}],"mark":{"type":"rule","color":"#1b237a","strokeWidth":1.5,"yOffset":8.5},"encoding":{"x":{"field":"or","type":"quantitative","scale":{"type":"log","domain":[0.1205,19.19],"nice":false}},"x2":{"field":"hi"},"y":{"field":"row","type":"quantitative","scale":{"domain":[-3.023,14],"reverse":true,"nice":false,"zero":false},"axis":null},"y2":{"field":"row"}}}
]},
{"layer":[
{"data":{"name":"p4"},"transform":[{"fold":["study","ci","trt","ctl","wt"],"as":["col","txt"]}],"mark":{"type":"text","align":"left","baseline":"middle","fontSize":4,"font":"Liberation Sans","color":"#222222"},"encoding":{"x":{"field":"col","type":"nominal","scale":{"type":"point","domain":["study","_1","title","_3","_4","_5","_6","_7","_8","_9","_10","_11","_12","_13","_14","_15","_16","_17","ci","_19","_20","trt","_22","ctl","_24","wt"],"range":[6,561.5],"padding":0},"axis":null},"y":{"field":"row","type":"quantitative","scale":{"domain":[-3.023,14],"reverse":true,"nice":false,"zero":false},"axis":null},"text":{"field":"txt"}}},
{"data":{"name":"hdr"},"mark":{"type":"text","align":"left","baseline":"middle","fontSize":4,"font":"Liberation Sans","color":"#222222"},"encoding":{"x":{"field":"col","type":"nominal","scale":{"type":"point","domain":["study","_1","title","_3","_4","_5","_6","_7","_8","_9","_10","_11","_12","_13","_14","_15","_16","_17","ci","_19","_20","trt","_22","ctl","_24","wt"],"range":[6,561.5],"padding":0},"axis":null},"y":{"field":"row","type":"quantitative","scale":{"domain":[-3.023,14],"reverse":true,"nice":false,"zero":false},"axis":null},"text":{"field":"txt"}}},
{"data":{"values":[{"txt":"TT vs. CC+CT"}]},"mark":{"type":"text","align":"left","baseline":"alphabetic","fontSize":25,"font":"Liberation Sans","color":"#000000","dx":2},"encoding":{"x":{"datum":"title","type":"nominal","scale":{"type":"point","domain":["study","_1","title","_3","_4","_5","_6","_7","_8","_9","_10","_11","_12","_13","_14","_15","_16","_17","ci","_19","_20","trt","_22","ctl","_24","wt"],"range":[6,561.5],"padding":0},"axis":null},"y":{"datum":-2,"type":"quantitative","scale":{"domain":[-3.023,14],"reverse":true,"nice":false,"zero":false},"axis":null},"text":{"field":"txt"}}}
]}
]},
{"width":599,"height":366,"resolve":{"scale":{"x":"independent"}},"layer":[
{"data":{"name":"p5"},"layer":[
{"data":{"values":[{}]},"mark":{"type":"rule","color":"#c8c8c8","strokeWidth":1.5},"encoding":{"y":{"datum":0.233,"type":"quantitative","scale":{"domain":[-3.023,14],"reverse":true,"nice":false,"zero":false},"axis":null}}},
{"transform":[{"filter":"datum.kind=='study'"}],"mark":{"type":"rule","color":"#000000","strokeWidth":2},"encoding":{"x":{"field":"lo","type":"quantitative","scale":{"type":"log","domain":[0.0340,112.0],"nice":false},"axis":{"values":[0.132,1,7.6],"labelExpr":"replace(format(datum.value,'.3~g'),'0.','.')","title":null,"grid":false,"domain":true,"ticks":true,"labels":true,"domainColor":"#3a3a3a","domainWidth":2,"tickColor":"#222222","tickSize":5,"labelFontSize":4.5,"labelColor":"#222222","labelPadding":4,"labelAngle":0,"labelFlush":false,"labelOverlap":false}},"x2":{"field":"hi"},"y":{"field":"row","type":"quantitative","scale":{"domain":[-3.023,14],"reverse":true,"nice":false,"zero":false},"axis":null}}},
{"data":{"values":[{}]},"mark":{"type":"rule","color":"#111111","strokeWidth":1.2},"encoding":{"x":{"datum":1,"type":"quantitative","scale":{"type":"log","domain":[0.0340,112.0],"nice":false}},"y":{"datum":0.233,"type":"quantitative","scale":{"domain":[-3.023,14],"reverse":true,"nice":false,"zero":false},"axis":null},"y2":{"datum":14}}},
{"transform":[{"filter":"datum.kind=='overall'"}],"mark":{"type":"rule","color":"#c0283a","strokeWidth":1.5,"strokeDash":[4,3]},"encoding":{"x":{"field":"or","type":"quantitative","scale":{"type":"log","domain":[0.0340,112.0],"nice":false}},"y":{"datum":0.233,"type":"quantitative","scale":{"domain":[-3.023,14],"reverse":true,"nice":false,"zero":false},"axis":null},"y2":{"datum":14}}},
{"transform":[{"filter":"datum.kind=='study'"}],"mark":{"type":"point","shape":"square","filled":true,"color":"#bdbdbd","opacity":1},"encoding":{"x":{"field":"or","type":"quantitative","scale":{"type":"log","domain":[0.0340,112.0],"nice":false}},"y":{"field":"row","type":"quantitative","scale":{"domain":[-3.023,14],"reverse":true,"nice":false,"zero":false},"axis":null},"size":{"field":"wt","type":"quantitative","scale":{"domain":[0,15],"range":[0,130]},"legend":null}}},
{"transform":[{"filter":"datum.kind=='study'"}],"mark":{"type":"rule","color":"#000000","strokeWidth":2},"encoding":{"x":{"field":"lo","type":"quantitative","scale":{"type":"log","domain":[0.0340,112.0],"nice":false}},"x2":{"field":"hi"},"y":{"field":"row","type":"quantitative","scale":{"domain":[-3.023,14],"reverse":true,"nice":false,"zero":false},"axis":null}}},
{"transform":[{"filter":"datum.kind=='study'"}],"mark":{"type":"point","shape":"circle","filled":true,"color":"#000000","opacity":1,"size":10},"encoding":{"x":{"field":"or","type":"quantitative","scale":{"type":"log","domain":[0.0340,112.0],"nice":false}},"y":{"field":"row","type":"quantitative","scale":{"domain":[-3.023,14],"reverse":true,"nice":false,"zero":false},"axis":null}}},
{"transform":[{"filter":"datum.kind=='study' && datum.hi > 7.5"}],"mark":{"type":"point","shape":"M-1,-1L0,0L-1,1","filled":false,"color":"#000000","opacity":1,"strokeWidth":1.5,"size":121},"encoding":{"x":{"field":"hi","type":"quantitative","scale":{"type":"log","domain":[0.0340,112.0],"nice":false}},"y":{"field":"row","type":"quantitative","scale":{"domain":[-3.023,14],"reverse":true,"nice":false,"zero":false},"axis":null}}},
{"transform":[{"filter":"datum.kind=='overall'"}],"mark":{"type":"rule","color":"#1b237a","strokeWidth":1.5,"y2Offset":-8.5},"encoding":{"x":{"field":"lo","type":"quantitative","scale":{"type":"log","domain":[0.0340,112.0],"nice":false}},"x2":{"field":"or"},"y":{"field":"row","type":"quantitative","scale":{"domain":[-3.023,14],"reverse":true,"nice":false,"zero":false},"axis":null},"y2":{"field":"row"}}},
{"transform":[{"filter":"datum.kind=='overall'"}],"mark":{"type":"rule","color":"#1b237a","strokeWidth":1.5,"yOffset":-8.5},"encoding":{"x":{"field":"or","type":"quantitative","scale":{"type":"log","domain":[0.0340,112.0],"nice":false}},"x2":{"field":"hi"},"y":{"field":"row","type":"quantitative","scale":{"domain":[-3.023,14],"reverse":true,"nice":false,"zero":false},"axis":null},"y2":{"field":"row"}}},
{"transform":[{"filter":"datum.kind=='overall'"}],"mark":{"type":"rule","color":"#1b237a","strokeWidth":1.5,"y2Offset":8.5},"encoding":{"x":{"field":"lo","type":"quantitative","scale":{"type":"log","domain":[0.0340,112.0],"nice":false}},"x2":{"field":"or"},"y":{"field":"row","type":"quantitative","scale":{"domain":[-3.023,14],"reverse":true,"nice":false,"zero":false},"axis":null},"y2":{"field":"row"}}},
{"transform":[{"filter":"datum.kind=='overall'"}],"mark":{"type":"rule","color":"#1b237a","strokeWidth":1.5,"yOffset":8.5},"encoding":{"x":{"field":"or","type":"quantitative","scale":{"type":"log","domain":[0.0340,112.0],"nice":false}},"x2":{"field":"hi"},"y":{"field":"row","type":"quantitative","scale":{"domain":[-3.023,14],"reverse":true,"nice":false,"zero":false},"axis":null},"y2":{"field":"row"}}}
]},
{"layer":[
{"data":{"name":"p5"},"transform":[{"fold":["study","ci","trt","ctl","wt"],"as":["col","txt"]}],"mark":{"type":"text","align":"left","baseline":"middle","fontSize":4,"font":"Liberation Sans","color":"#222222"},"encoding":{"x":{"field":"col","type":"nominal","scale":{"type":"point","domain":["study","_1","title","_3","_4","_5","_6","_7","_8","_9","_10","_11","_12","_13","_14","_15","_16","_17","ci","_19","_20","trt","_22","ctl","_24","wt"],"range":[6,561.5],"padding":0},"axis":null},"y":{"field":"row","type":"quantitative","scale":{"domain":[-3.023,14],"reverse":true,"nice":false,"zero":false},"axis":null},"text":{"field":"txt"}}},
{"data":{"name":"hdr"},"mark":{"type":"text","align":"left","baseline":"middle","fontSize":4,"font":"Liberation Sans","color":"#222222"},"encoding":{"x":{"field":"col","type":"nominal","scale":{"type":"point","domain":["study","_1","title","_3","_4","_5","_6","_7","_8","_9","_10","_11","_12","_13","_14","_15","_16","_17","ci","_19","_20","trt","_22","ctl","_24","wt"],"range":[6,561.5],"padding":0},"axis":null},"y":{"field":"row","type":"quantitative","scale":{"domain":[-3.023,14],"reverse":true,"nice":false,"zero":false},"axis":null},"text":{"field":"txt"}}},
{"data":{"values":[{"txt":"TT +CT vs. CC"}]},"mark":{"type":"text","align":"left","baseline":"alphabetic","fontSize":25,"font":"Liberation Sans","color":"#000000","dx":1},"encoding":{"x":{"datum":"title","type":"nominal","scale":{"type":"point","domain":["study","_1","title","_3","_4","_5","_6","_7","_8","_9","_10","_11","_12","_13","_14","_15","_16","_17","ci","_19","_20","trt","_22","ctl","_24","wt"],"range":[6,561.5],"padding":0},"axis":null},"y":{"datum":-2,"type":"quantitative","scale":{"domain":[-3.023,14],"reverse":true,"nice":false,"zero":false},"axis":null},"text":{"field":"txt"}}}
]}
]}
]
}
